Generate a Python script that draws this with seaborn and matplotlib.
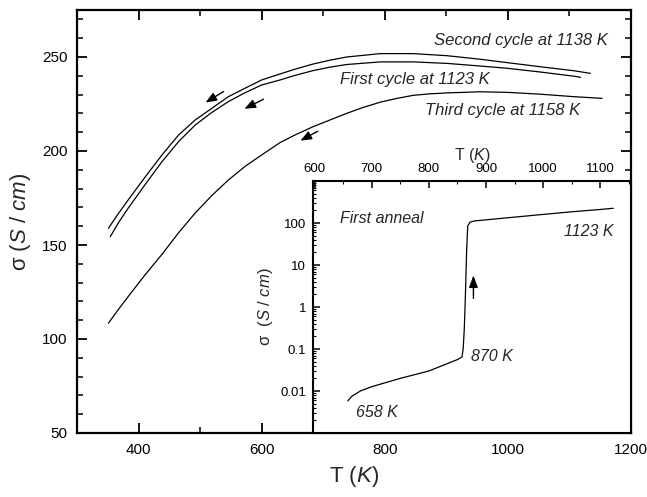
import matplotlib
matplotlib.use("Agg")
import matplotlib.pyplot as plt
import matplotlib.ticker as mticker
import numpy as np
import pandas as pd
import seaborn as sns

# ---------------- data ----------------
second_T = [351, 367, 383, 411, 438, 465, 492, 519, 546, 573, 600, 630, 654, 684, 711, 738, 793, 846, 901, 955, 999, 1053, 1107, 1134]
second_s = [158.9, 166.6, 173.9, 186.3, 197.9, 208.5, 216.5, 222.7, 228.9, 233.4, 237.8, 241.0, 243.5, 246.3, 248.3, 250.0, 251.8, 251.8, 250.7, 248.8, 247.0, 244.8, 242.7, 241.3]

first_T = [354, 368, 383, 411, 438, 465, 492, 519, 546, 573, 600, 630, 654, 684, 711, 738, 793, 846, 901, 955, 999, 1053, 1107, 1118]
first_s = [154.4, 162.2, 169.5, 182.3, 194.3, 205.0, 213.8, 220.5, 226.3, 231.0, 235.1, 237.8, 240.2, 242.8, 244.6, 246.0, 247.4, 247.4, 246.6, 245.2, 244.0, 242.0, 239.8, 239.2]

third_T = [351, 367, 383, 411, 438, 465, 492, 519, 546, 573, 600, 630, 654, 684, 711, 738, 765, 793, 820, 846, 873, 901, 955, 999, 1053, 1107, 1153]
third_s = [108.4, 115.6, 122.5, 134.3, 145.0, 156.5, 167.0, 176.3, 184.6, 191.8, 197.9, 204.5, 208.5, 213.0, 216.5, 220.0, 223.2, 226.0, 228.0, 229.6, 230.4, 230.9, 231.5, 231.2, 230.2, 228.9, 228.0]

anneal_T = [658, 665, 680, 700, 750, 800, 850, 858, 860, 862, 864, 866, 868, 872, 880, 950, 1000, 1050, 1100, 1123]
anneal_s = [0.0058, 0.0075, 0.010, 0.0127, 0.020, 0.030, 0.056, 0.065, 0.10, 0.3, 2.0, 20, 85, 105, 112, 138, 160, 185, 210, 224]

main_xticks = [400, 600, 800, 1000, 1200]
main_yticks = [50, 100, 150, 200, 250]
inset_xticks = [600, 700, 800, 900, 1000, 1100]
inset_yticks = [0.01, 0.1, 1, 10, 100]
inset_yticklabels = ["0.01", "0.1", "1", "10", "100"]

# ---------------- style ----------------
sns.set_theme(style="ticks")
plt.rcParams["font.family"] = ["Liberation Sans", "DejaVu Sans"]
plt.rcParams["mathtext.fontset"] = "custom"
plt.rcParams["mathtext.rm"] = "Liberation Sans"
plt.rcParams["mathtext.it"] = "Liberation Sans:italic"
plt.rcParams["axes.linewidth"] = 1.6

W, H = 647, 497
fig = plt.figure(figsize=(W / 100, H / 100), dpi=100)

def px_axes(x0, y0, x1, y1):
    return [x0 / W, 1 - y1 / H, (x1 - x0) / W, (y1 - y0) / H]

ax = fig.add_axes(px_axes(77, 10, 631, 433))

df_main = pd.concat([
    pd.DataFrame({"T": second_T, "s": second_s, "c": "second"}),
    pd.DataFrame({"T": first_T, "s": first_s, "c": "first"}),
    pd.DataFrame({"T": third_T, "s": third_s, "c": "third"}),
])
for name, sub in df_main.groupby("c"):
    sns.lineplot(data=sub, x="T", y="s", ax=ax, color="black", lw=0.9,
                 estimator=None, sort=False)

ax.set_xlim(300, 1200)
ax.set_ylim(50, 275)
ax.set_xticks(main_xticks)
ax.set_yticks(main_yticks)
ax.xaxis.set_minor_locator(mticker.MultipleLocator(100))
ax.yaxis.set_minor_locator(mticker.MultipleLocator(10))
ax.tick_params(which="both", direction="in", top=True, right=True, labelsize=11, pad=7, colors="black")
ax.tick_params(which="major", length=7, width=1.3)
ax.tick_params(which="minor", length=4, width=1.1)
ax.set_xlabel("T ($K$)", fontsize=16, labelpad=5)
ax.set_ylabel("σ ($S$ / $cm$)", fontsize=16, labelpad=6)
for sp in ax.spines.values():
    sp.set_color("black")

ax.text(1162, 259, "Second cycle at 1138 K", ha="right", va="center", style="italic", fontsize=12)
ax.text(728, 237.8, "First cycle at 1123 K", ha="left", va="center", style="italic", fontsize=12)
ax.text(866, 221.8, "Third cycle at 1158 K", ha="left", va="center", style="italic", fontsize=12)

arrow_kw = dict(arrowstyle="-|>,head_length=0.55,head_width=0.22", color="black", lw=1.0)
for (x0, y0, x1, y1) in [(542, 232.4, 505, 225.0), (607, 228.2, 568, 221.8), (695, 211.2, 659, 204.8)]:
    ax.annotate("", xy=(x1, y1), xytext=(x0, y0), arrowprops=arrow_kw)

# ---------------- inset ----------------
ins = fig.add_axes(px_axes(313, 181, 631, 433))
ins.set_facecolor("white")
df_in = pd.DataFrame({"T": anneal_T, "s": anneal_s})
sns.lineplot(data=df_in, x="T", y="s", ax=ins, color="black", lw=0.9, estimator=None, sort=False)
ins.set_yscale("log")
ins.set_xlim(597, 1154)
ins.set_ylim(1e-3, 1e3)
ins.set_xticks(inset_xticks)
ins.xaxis.set_minor_locator(mticker.MultipleLocator(50))
ins.set_yticks(inset_yticks)
ins.set_yticklabels(inset_yticklabels)
ins.yaxis.set_minor_locator(mticker.LogLocator(base=10, subs=np.arange(2, 10), numticks=20))
ins.yaxis.set_minor_formatter(mticker.NullFormatter())
ins.xaxis.set_ticks_position("top")
ins.xaxis.set_label_position("top")
ins.tick_params(which="both", direction="in", bottom=False, right=False, top=True, left=True,
                labelsize=9.5, pad=4, colors="black")
ins.tick_params(which="major", length=5, width=1.1)
ins.tick_params(which="minor", length=2.5, width=0.8)
ins.tick_params(axis="y", which="both", pad=5)
ins.set_xlabel("T ($K$)", fontsize=11.5, labelpad=2.5)
ins.set_ylabel("σ  ($S$ / $cm$)", fontsize=12, labelpad=4)
for sp in ins.spines.values():
    sp.set_color("black")
    sp.set_linewidth(1.5)

ins.text(644, 131, "First anneal", ha="left", va="center", style="italic", fontsize=11.5)
ins.text(1123, 62, "1123 K", ha="right", va="center", style="italic", fontsize=11.5)
ins.text(874, 0.066, "870 K", ha="left", va="center", style="italic", fontsize=11.5)
ins.text(672, 0.003, "658 K", ha="left", va="center", style="italic", fontsize=11.5)
ins.annotate("", xy=(878, 6.6), xytext=(878, 1.38),
             arrowprops=dict(arrowstyle="-|>,head_length=0.6,head_width=0.22", color="black", lw=1.0))

fig.savefig("out.png", dpi=100)
